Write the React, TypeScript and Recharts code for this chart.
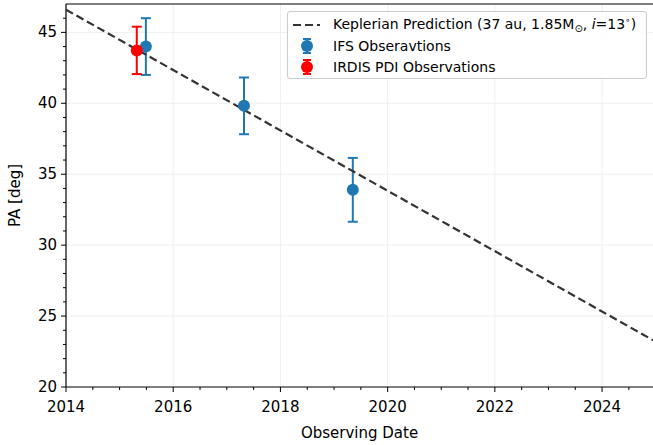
import {
  ComposedChart,
  ErrorBar,
  ReferenceLine,
  Scatter,
  XAxis,
  YAxis,
} from "recharts";

const IFS_DATES = [2015.49, 2017.32, 2019.35];
const IFS_PA = [44.0, 39.82, 33.9];
const IFS_ERR = [2.0, 2.0, 2.25];

const IRDIS_DATES = [2015.32];
const IRDIS_PA = [43.73];
const IRDIS_ERR = [1.67];

const MODEL_DATES = [2014, 2024.95];
const MODEL_PA = [46.6, 23.3];

const X_MIN = 2014;
const X_MAX = 2024.95;
const Y_MIN = 20;
const Y_MAX = 47;

const X_MAJOR = [2014, 2016, 2018, 2020, 2022, 2024];
const X_MINOR = [2014, 2014.5, 2015, 2015.5, 2016, 2016.5, 2017, 2017.5, 2018, 2018.5, 2019, 2019.5, 2020, 2020.5, 2021, 2021.5, 2022, 2022.5, 2023, 2023.5, 2024, 2024.5];
const Y_MAJOR = [20, 25, 30, 35, 40, 45];
const Y_MINOR = [20, 21, 22, 23, 24, 25, 26, 27, 28, 29, 30, 31, 32, 33, 34, 35, 36, 37, 38, 39, 40, 41, 42, 43, 44, 45, 46];

const ifsData = IFS_DATES.map((x, i) => ({ x, y: IFS_PA[i], err: IFS_ERR[i] }));
const irdisData = IRDIS_DATES.map((x, i) => ({ x, y: IRDIS_PA[i], err: IRDIS_ERR[i] }));
const modelData = MODEL_DATES.map((x, i) => ({ x, y: MODEL_PA[i] }));

const FONT = "'DejaVu Sans', sans-serif";
const BLUE = "#1f77b4";
const RED = "#ff0000";
const GRID = "#efefef";

function XTick(props: any) {
  const { x, y, payload } = props;
  const major = X_MAJOR.includes(payload.value);
  return (
    <g>
      <line x1={x} x2={x} y1={y} y2={y + (major ? 5 : 3)} stroke="#000" strokeWidth={1} />
      {major && (
        <text x={x} y={y + 20} textAnchor="middle" dominantBaseline="middle" fontSize={15} fill="#000" fontFamily={FONT}>
          {payload.value}
        </text>
      )}
    </g>
  );
}

function YTick(props: any) {
  const { x, y, payload } = props;
  const major = Y_MAJOR.includes(payload.value);
  return (
    <g>
      <line x1={x - (major ? 5 : 3)} x2={x} y1={y} y2={y} stroke="#000" strokeWidth={1} />
      {major && (
        <text x={x - 9} y={y} textAnchor="end" dominantBaseline="central" fontSize={15} fill="#000" fontFamily={FONT}>
          {payload.value}
        </text>
      )}
    </g>
  );
}

function ErrMarker({ color }: { color: string }) {
  return (
    <svg width={30} height={20} style={{ display: "block" }}>
      <line x1={14} x2={14} y1={3} y2={17} stroke={color} strokeWidth={2} />
      <line x1={10} x2={18} y1={3} y2={3} stroke={color} strokeWidth={2} />
      <line x1={10} x2={18} y1={17} y2={17} stroke={color} strokeWidth={2} />
      <circle cx={14} cy={10} r={6} fill={color} />
    </svg>
  );
}

function LegendBox() {
  const row = { display: "flex", alignItems: "center", height: 21 } as const;
  return (
    <div
      style={{
        position: "absolute",
        left: 287,
        top: 11,
        width: 360,
        height: 68,
        border: "1px solid #cccccc",
        borderRadius: 3,
        background: "rgba(255,255,255,0.85)",
        fontFamily: FONT,
        fontSize: 14,
        color: "#000",
        boxSizing: "border-box",
        paddingTop: 2,
        paddingLeft: 5,
      }}
    >
      <div style={row}>
        <svg width={30} height={20} style={{ display: "block" }}>
          <line x1={0} x2={27} y1={10} y2={10} stroke="#333333" strokeWidth={2.2} strokeDasharray="8 4" />
        </svg>
        <span style={{ marginLeft: 10, whiteSpace: "nowrap" }}>
          Keplerian Prediction (37 au, 1.85M<sub style={{ fontSize: 10 }}>⊙</sub>, <i>i</i>=13<sup style={{ fontSize: 9 }}>∘</sup>)
        </span>
      </div>
      <div style={row}>
        <ErrMarker color={BLUE} />
        <span style={{ marginLeft: 10 }}>IFS Obseravtions</span>
      </div>
      <div style={row}>
        <ErrMarker color={RED} />
        <span style={{ marginLeft: 10 }}>IRDIS PDI Observations</span>
      </div>
    </div>
  );
}

export default function App() {
  return (
    <div style={{ position: "absolute", left: 0, top: 0, width: 653, height: 445, background: "#fff", fontFamily: FONT }}>
      <ComposedChart width={653} height={445} margin={{ top: 4, right: 0, bottom: 0, left: 0 }}>
        <XAxis
          type="number"
          dataKey="x"
          domain={[X_MIN, X_MAX]}
          allowDataOverflow
          ticks={X_MINOR}
          interval={0}
          tickSize={0}
          tickMargin={0}
          tickLine={false}
          tick={<XTick />}
          height={58}
          axisLine={{ stroke: "#000", strokeWidth: 1.2 }}
          label={{ value: "Observing Date", position: "insideBottom", offset: 7, fontSize: 15, fill: "#000", fontFamily: FONT }}
        />
        <YAxis
          type="number"
          dataKey="y"
          domain={[Y_MIN, Y_MAX]}
          allowDataOverflow
          ticks={Y_MINOR}
          interval={0}
          tickSize={0}
          tickMargin={0}
          tickLine={false}
          tick={<YTick />}
          width={66}
          axisLine={{ stroke: "#000", strokeWidth: 1.2 }}
          label={{ value: "PA [deg]", angle: -90, position: "insideLeft", offset: 15, fontSize: 15, fill: "#000", fontFamily: FONT, style: { textAnchor: "middle" } }}
        />
        {X_MAJOR.slice(1).map((v) => (
          <ReferenceLine key={"gx" + v} x={v} stroke={GRID} strokeWidth={1} />
        ))}
        {Y_MAJOR.slice(1).map((v) => (
          <ReferenceLine key={"gy" + v} y={v} stroke={GRID} strokeWidth={1} />
        ))}
        <ReferenceLine y={Y_MAX} stroke="#000" strokeWidth={1.2} />
        <Scatter
          data={modelData}
          line={{ stroke: "#333333", strokeWidth: 2.2, strokeDasharray: "8 4" }}
          shape={() => <g />}
          isAnimationActive={false}
        />
        <Scatter data={ifsData} fill={BLUE} shape={(p: any) => <circle cx={p.cx} cy={p.cy} r={6} fill={BLUE} />} isAnimationActive={false}>
          <ErrorBar dataKey="err" direction="y" width={5} stroke={BLUE} strokeWidth={2} isAnimationActive={false} />
        </Scatter>
        <Scatter data={irdisData} fill={RED} shape={(p: any) => <circle cx={p.cx} cy={p.cy} r={6} fill={RED} />} isAnimationActive={false}>
          <ErrorBar dataKey="err" direction="y" width={5} stroke={RED} strokeWidth={2} isAnimationActive={false} />
        </Scatter>
      </ComposedChart>
      <LegendBox />
    </div>
  );
}
